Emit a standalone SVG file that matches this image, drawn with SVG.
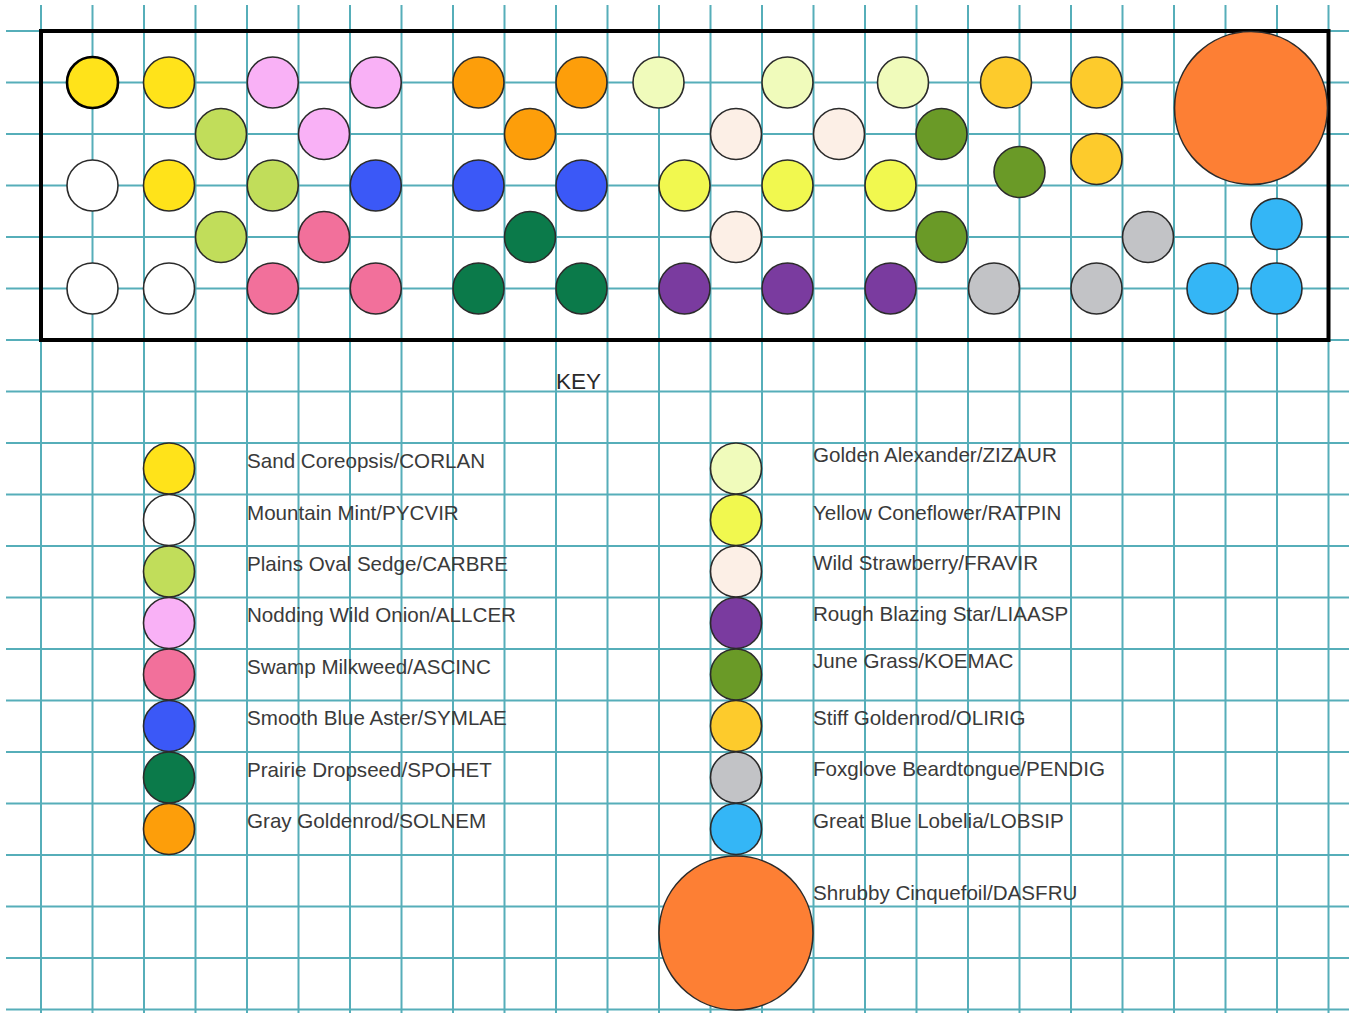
<svg xmlns="http://www.w3.org/2000/svg" width="1351" height="1013" viewBox="0 0 1351 1013">
<style>
.grid{stroke:#56aeb9;stroke-width:2;fill:none}
.frame{fill:none;stroke:#000;stroke-width:4}
circle{stroke:#2b2b2b;stroke-width:1.6}
.lbl{font-family:"Liberation Sans",Arial,sans-serif;font-size:20.6px;fill:#3a3a3a}
.key{font-family:"Liberation Sans",Arial,sans-serif;font-size:22.5px;fill:#2a2a2a}
.cor{fill:#ffe31a}.pyc{fill:#ffffff}.car{fill:#c1dd5a}.all{fill:#f9b1f6}.asc{fill:#f2709b}.sym{fill:#3b58f7}.spo{fill:#0b7a4a}.sol{fill:#fd9e0a}
.ziz{fill:#f0fbbb}.rat{fill:#f1f84f}.fra{fill:#fcefe6}.lia{fill:#7a3b9f}.koe{fill:#6a9a27}.oli{fill:#fdcb2c}.pen{fill:#c2c3c6}.lob{fill:#34b6f6}.das{fill:#fd7f34}
</style>
<rect width="1351" height="1013" fill="#fff"/>
<g id="grid">
<path class="grid" d="M41 5V1013M92.5 5V1013M144 5V1013M195.5 5V1013M247 5V1013M298.5 5V1013M350 5V1013M401.5 5V1013M453 5V1013M504.5 5V1013M556 5V1013M607.5 5V1013M659 5V1013M710.5 5V1013M762 5V1013M813.5 5V1013M865 5V1013M916.5 5V1013M968 5V1013M1019.5 5V1013M1071 5V1013M1122.5 5V1013M1174 5V1013M1225.5 5V1013M1277 5V1013M1328.5 5V1013"/>
<path class="grid" d="M6 31H1349M6 82.5H1349M6 134H1349M6 185.5H1349M6 237H1349M6 288.5H1349M6 340H1349M6 391.5H1349M6 443H1349M6 494.5H1349M6 546H1349M6 597.5H1349M6 649H1349M6 700.5H1349M6 752H1349M6 803.5H1349M6 855H1349M6 906.5H1349M6 958H1349M6 1009.5H1349"/>
</g>
<g id="bed">
<rect class="frame" x="41" y="31" width="1287.5" height="309"/>
<g id="p-cor"><circle class="cor" cx="92.5" cy="82.5" r="25.5" style="stroke:#000;stroke-width:2.6"/><circle class="cor" cx="169" cy="82.5" r="25.5"/><circle class="cor" cx="169" cy="185.5" r="25.5"/></g>
<g id="p-pyc"><circle class="pyc" cx="92.5" cy="185.5" r="25.5"/><circle class="pyc" cx="92.5" cy="288.5" r="25.5"/><circle class="pyc" cx="169" cy="288.5" r="25.5"/></g>
<g id="p-car"><circle class="car" cx="221" cy="134" r="25.5"/><circle class="car" cx="272.75" cy="185.5" r="25.5"/><circle class="car" cx="221" cy="237" r="25.5"/></g>
<g id="p-all"><circle class="all" cx="272.75" cy="82.5" r="25.5"/><circle class="all" cx="375.75" cy="82.5" r="25.5"/><circle class="all" cx="324" cy="134" r="25.5"/></g>
<g id="p-asc"><circle class="asc" cx="324" cy="237" r="25.5"/><circle class="asc" cx="272.75" cy="288.5" r="25.5"/><circle class="asc" cx="375.75" cy="288.5" r="25.5"/></g>
<g id="p-sym"><circle class="sym" cx="375.75" cy="185.5" r="25.5"/><circle class="sym" cx="478.5" cy="185.5" r="25.5"/><circle class="sym" cx="581.5" cy="185.5" r="25.5"/></g>
<g id="p-spo"><circle class="spo" cx="530" cy="237" r="25.5"/><circle class="spo" cx="478.5" cy="288.5" r="25.5"/><circle class="spo" cx="581.5" cy="288.5" r="25.5"/></g>
<g id="p-sol"><circle class="sol" cx="478.5" cy="82.5" r="25.5"/><circle class="sol" cx="581.5" cy="82.5" r="25.5"/><circle class="sol" cx="530" cy="134" r="25.5"/></g>
<g id="p-ziz"><circle class="ziz" cx="658.5" cy="82.5" r="25.5"/><circle class="ziz" cx="787.5" cy="82.5" r="25.5"/><circle class="ziz" cx="903" cy="82.5" r="25.5"/></g>
<g id="p-rat"><circle class="rat" cx="684.5" cy="185.5" r="25.5"/><circle class="rat" cx="787.5" cy="185.5" r="25.5"/><circle class="rat" cx="890.5" cy="185.5" r="25.5"/></g>
<g id="p-fra"><circle class="fra" cx="736" cy="134" r="25.5"/><circle class="fra" cx="839" cy="134" r="25.5"/><circle class="fra" cx="736" cy="237" r="25.5"/></g>
<g id="p-lia"><circle class="lia" cx="684.5" cy="288.5" r="25.5"/><circle class="lia" cx="787.5" cy="288.5" r="25.5"/><circle class="lia" cx="890.5" cy="288.5" r="25.5"/></g>
<g id="p-koe"><circle class="koe" cx="941.5" cy="134" r="25.5"/><circle class="koe" cx="1019.5" cy="172" r="25.5"/><circle class="koe" cx="941.5" cy="237" r="25.5"/></g>
<g id="p-oli"><circle class="oli" cx="1006" cy="82.5" r="25.5"/><circle class="oli" cx="1096.5" cy="82.5" r="25.5"/><circle class="oli" cx="1096.5" cy="159" r="25.5"/></g>
<g id="p-pen"><circle class="pen" cx="1148" cy="237" r="25.5"/><circle class="pen" cx="994" cy="288.5" r="25.5"/><circle class="pen" cx="1096.5" cy="288.5" r="25.5"/></g>
<g id="p-lob"><circle class="lob" cx="1276.5" cy="224" r="25.5"/><circle class="lob" cx="1212.5" cy="288.5" r="25.5"/><circle class="lob" cx="1276.5" cy="288.5" r="25.5"/></g>
<g id="p-das"><circle class="das" cx="1251" cy="108" r="76.5"/></g>
</g>
<text class="key" x="556" y="388.5">KEY</text>
<g id="key-left">
<g id="k-cor"><circle class="cor" cx="169" cy="468.5" r="25.5"/><text class="lbl" x="247" y="468">Sand Coreopsis/CORLAN</text></g>
<g id="k-pyc"><circle class="pyc" cx="169" cy="520" r="25.5"/><text class="lbl" x="247" y="519.5">Mountain Mint/PYCVIR</text></g>
<g id="k-car"><circle class="car" cx="169" cy="571.5" r="25.5"/><text class="lbl" x="247" y="570.5">Plains Oval Sedge/CARBRE</text></g>
<g id="k-all"><circle class="all" cx="169" cy="623" r="25.5"/><text class="lbl" x="247" y="622">Nodding Wild Onion/ALLCER</text></g>
<g id="k-asc"><circle class="asc" cx="169" cy="674.5" r="25.5"/><text class="lbl" x="247" y="673.5">Swamp Milkweed/ASCINC</text></g>
<g id="k-sym"><circle class="sym" cx="169" cy="726" r="25.5"/><text class="lbl" x="247" y="725">Smooth Blue Aster/SYMLAE</text></g>
<g id="k-spo"><circle class="spo" cx="169" cy="777.5" r="25.5"/><text class="lbl" x="247" y="776.5">Prairie Dropseed/SPOHET</text></g>
<g id="k-sol"><circle class="sol" cx="169" cy="829" r="25.5"/><text class="lbl" x="247" y="828">Gray Goldenrod/SOLNEM</text></g>
</g>
<g id="key-right">
<g id="k-ziz"><circle class="ziz" cx="736" cy="468.5" r="25.5"/><text class="lbl" x="813" y="462">Golden Alexander/ZIZAUR</text></g>
<g id="k-rat"><circle class="rat" cx="736" cy="520" r="25.5"/><text class="lbl" x="813" y="519.5">Yellow Coneflower/RATPIN</text></g>
<g id="k-fra"><circle class="fra" cx="736" cy="571.5" r="25.5"/><text class="lbl" x="813" y="569.5">Wild Strawberry/FRAVIR</text></g>
<g id="k-lia"><circle class="lia" cx="736" cy="623" r="25.5"/><text class="lbl" x="813" y="621">Rough Blazing Star/LIAASP</text></g>
<g id="k-koe"><circle class="koe" cx="736" cy="674.5" r="25.5"/><text class="lbl" x="813" y="667.5">June Grass/KOEMAC</text></g>
<g id="k-oli"><circle class="oli" cx="736" cy="726" r="25.5"/><text class="lbl" x="813" y="724.5">Stiff Goldenrod/OLIRIG</text></g>
<g id="k-pen"><circle class="pen" cx="736" cy="777.5" r="25.5"/><text class="lbl" x="813" y="776">Foxglove Beardtongue/PENDIG</text></g>
<g id="k-lob"><circle class="lob" cx="736" cy="829" r="25.5"/><text class="lbl" x="813" y="828">Great Blue Lobelia/LOBSIP</text></g>
<g id="k-das"><circle class="das" cx="736" cy="933" r="77"/><text class="lbl" x="813" y="900">Shrubby Cinquefoil/DASFRU</text></g>
</g>
</svg>
